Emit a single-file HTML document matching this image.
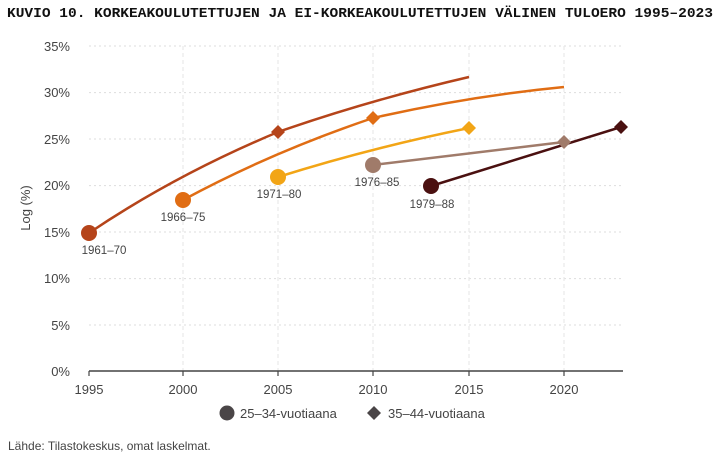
<!DOCTYPE html>
<html><head><meta charset="utf-8"><style>
body{margin:0;background:#fff;width:720px;height:458px;overflow:hidden;font-family:"Liberation Sans",sans-serif}
</style></head><body>
<svg width="720" height="458" xmlns="http://www.w3.org/2000/svg">
<text x="7" y="17" font-family="Liberation Mono,monospace" font-weight="bold" font-size="13.5" fill="#111" textLength="706" lengthAdjust="spacingAndGlyphs">KUVIO 10. KORKEAKOULUTETTUJEN JA EI-KORKEAKOULUTETTUJEN VÄLINEN TULOERO 1995–2023</text>
<g stroke="#ddd" stroke-width="1" stroke-dasharray="2,3">
<line x1="89" x2="623" y1="46" y2="46"/><line x1="89" x2="623" y1="92.6" y2="92.6"/><line x1="89" x2="623" y1="139" y2="139"/><line x1="89" x2="623" y1="185.6" y2="185.6"/><line x1="89" x2="623" y1="232" y2="232"/><line x1="89" x2="623" y1="278.6" y2="278.6"/><line x1="89" x2="623" y1="325" y2="325"/>
</g>
<g stroke="#e6e6e6" stroke-width="1" stroke-dasharray="4,3">
<line x1="183" x2="183" y1="46" y2="371"/><line x1="278" x2="278" y1="46" y2="371"/><line x1="373" x2="373" y1="46" y2="371"/><line x1="469" x2="469" y1="46" y2="371"/><line x1="564" x2="564" y1="46" y2="371"/>
</g>
<line x1="89" x2="623" y1="371" y2="371" stroke="#444" stroke-width="1.5"/>
<g stroke="#444" stroke-width="1.2"><line x1="89" x2="89" y1="371" y2="376"/><line x1="183" x2="183" y1="371" y2="376"/><line x1="278" x2="278" y1="371" y2="376"/><line x1="373" x2="373" y1="371" y2="376"/><line x1="469" x2="469" y1="371" y2="376"/><line x1="564" x2="564" y1="371" y2="376"/></g>
<g font-size="13" fill="#444" text-anchor="end">
<text x="70" y="51">35%</text><text x="70" y="97">30%</text><text x="70" y="144">25%</text><text x="70" y="190">20%</text><text x="70" y="237">15%</text><text x="70" y="283">10%</text><text x="70" y="330">5%</text><text x="70" y="376">0%</text>
</g>
<g font-size="13" fill="#444" text-anchor="middle">
<text x="89" y="394">1995</text><text x="183" y="394">2000</text><text x="278" y="394">2005</text><text x="373" y="394">2010</text><text x="469" y="394">2015</text><text x="564" y="394">2020</text>
</g>
<text transform="translate(30,208) rotate(-90)" font-size="13" fill="#444" text-anchor="middle">Log (%)</text>
<g fill="none" stroke-width="2.5">
<path d="M89,233 Q175,175 278,132 Q370,100 469,77" stroke="#b5441a"/>
<path d="M183,200 Q272,152 373,118 Q470,96 564,87" stroke="#e06d14"/>
<path d="M278,177 Q370,148 469,128" stroke="#f2a516"/>
<path d="M373,165 L564,142" stroke="#a07b6a"/>
<path d="M431,186 L621,127" stroke="#4a1010"/>
</g>
<circle cx="89" cy="233" r="8" fill="#b5441a"/><path d="M278,125 l7,7 -7,7 -7,-7z" fill="#b5441a"/>
<circle cx="183" cy="200" r="8" fill="#e06d14"/><path d="M373,111 l7,7 -7,7 -7,-7z" fill="#e06d14"/>
<circle cx="278" cy="177" r="8" fill="#f2a516"/><path d="M469,121 l7,7 -7,7 -7,-7z" fill="#f2a516"/>
<circle cx="373" cy="165" r="8" fill="#a07b6a"/><path d="M564,135 l7,7 -7,7 -7,-7z" fill="#a07b6a"/>
<circle cx="431" cy="186" r="8" fill="#4a1010"/><path d="M621,120 l7,7 -7,7 -7,-7z" fill="#4a1010"/>
<g font-size="11.5" fill="#444" text-anchor="middle">
<text x="104" y="254">1961–70</text><text x="183" y="221">1966–75</text><text x="279" y="198">1971–80</text><text x="377" y="186">1976–85</text><text x="432" y="208">1979–88</text>
</g>
<circle cx="227" cy="413" r="7.5" fill="#4a4547"/>
<text x="240" y="418" font-size="13" fill="#444">25–34-vuotiaana</text>
<path d="M374,406 l7,7 -7,7 -7,-7z" fill="#4a4547"/>
<text x="388" y="418" font-size="13" fill="#444">35–44-vuotiaana</text>
<text x="8" y="450" font-size="12" fill="#444">Lähde: Tilastokeskus, omat laskelmat.</text>
</svg>
</body></html>
